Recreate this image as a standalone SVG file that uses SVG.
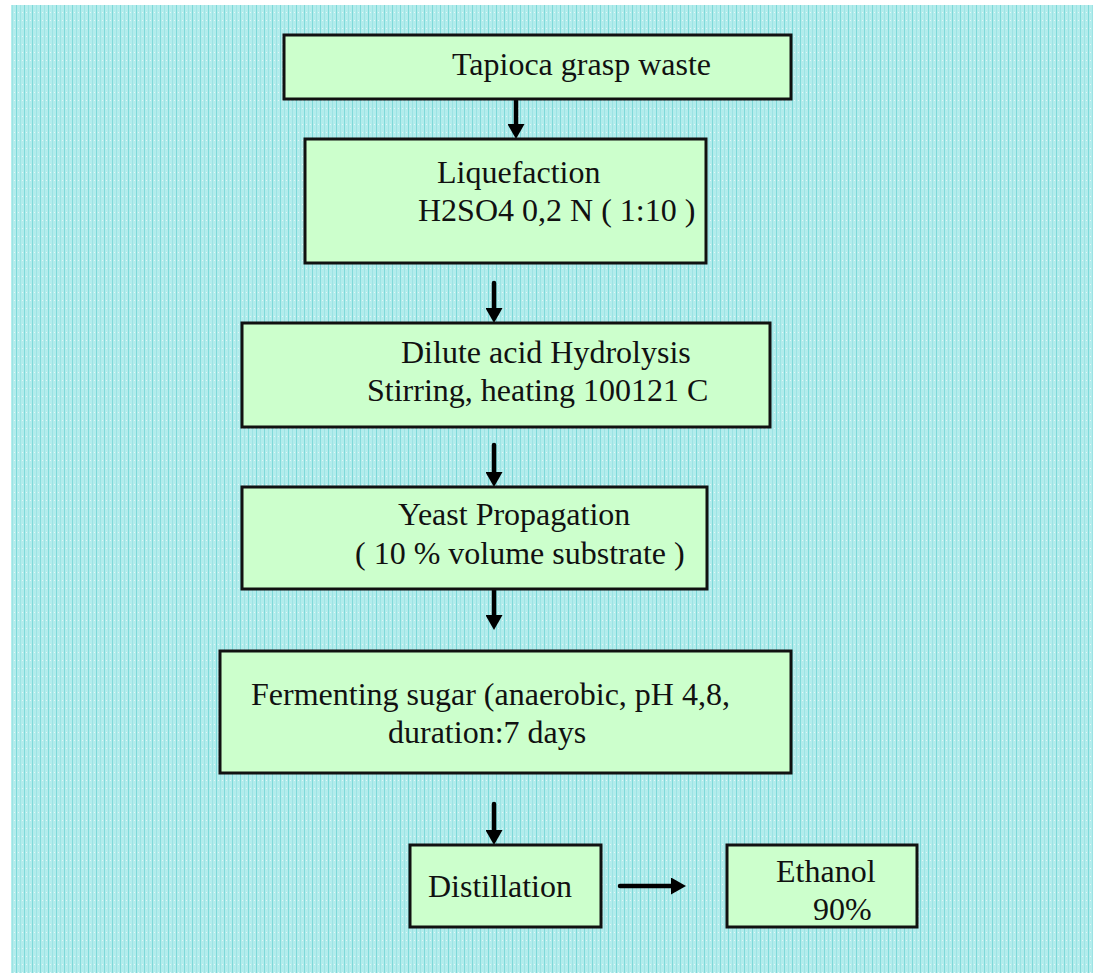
<svg xmlns="http://www.w3.org/2000/svg" width="1093" height="973" viewBox="0 0 1093 973">
<style>
.box{fill:#ccffcc;stroke:#111;stroke-width:3}
.t{font-family:"Liberation Serif","Times New Roman",serif;font-size:32px;fill:#111}
.c{stroke:#000;stroke-width:4.5;stroke-linecap:round;fill:none;marker-end:url(#ah)}
</style>
<defs>
<pattern id="bg" width="8" height="8" patternUnits="userSpaceOnUse">
<rect width="8" height="8" fill="#b3ecec"/>
<rect x="0" y="0" width="1" height="8" fill="#7fd9d9"/>
<rect x="4" y="0" width="1" height="8" fill="#9ce4e4"/>
<rect x="2" y="4" width="1" height="1" fill="#e2f8f8"/>
<rect x="6" y="4" width="1" height="1" fill="#e2f8f8"/>
</pattern>
<marker id="ah" markerUnits="userSpaceOnUse" markerWidth="15" markerHeight="17" viewBox="0 0 15 17" refX="7" refY="8.5" orient="auto">
<path d="M0,0 L15,8.5 L0,17 z" fill="#000"/>
</marker>
</defs>
<rect x="0" y="0" width="1093" height="973" fill="#ffffff"/>
<rect x="11" y="5" width="1082" height="968" fill="url(#bg)"/>
<g id="connectors">
<line class="c" x1="516" y1="100" x2="516" y2="131"/>
<line class="c" x1="494" y1="283" x2="494" y2="315"/>
<line class="c" x1="494" y1="445" x2="494" y2="479"/>
<line class="c" x1="494" y1="590" x2="494" y2="622"/>
<line class="c" x1="494" y1="804" x2="494" y2="837"/>
<line class="c" x1="620" y1="886" x2="678" y2="886"/>
</g>
<g id="tapioca">
<rect class="box" x="284" y="35" width="507" height="64"/>
<text class="t" x="452" y="75">Tapioca grasp waste</text>
</g>
<g id="liquefaction">
<rect class="box" x="305" y="139" width="401" height="124"/>
<text class="t" x="437" y="183">Liquefaction</text>
<text class="t" x="418" y="221">H2SO4 0,2 N ( 1:10 )</text>
</g>
<g id="hydrolysis">
<rect class="box" x="242" y="323" width="528" height="104"/>
<text class="t" x="401" y="363">Dilute acid Hydrolysis</text>
<text class="t" x="367" y="401">Stirring, heating 100121 C</text>
</g>
<g id="yeast">
<rect class="box" x="242" y="487" width="465" height="102"/>
<text class="t" x="398" y="525">Yeast Propagation</text>
<text class="t" x="355" y="564">( 10 % volume substrate )</text>
</g>
<g id="fermenting">
<rect class="box" x="220" y="651" width="571" height="122"/>
<text class="t" x="251" y="705">Fermenting sugar (anaerobic, pH 4,8,</text>
<text class="t" x="388" y="743">duration:7 days</text>
</g>
<g id="distillation">
<rect class="box" x="410" y="845" width="191" height="82"/>
<text class="t" x="428" y="897">Distillation</text>
</g>
<g id="ethanol">
<rect class="box" x="727" y="845" width="190" height="82"/>
<text class="t" x="776" y="882">Ethanol</text>
<text class="t" x="813" y="920">90%</text>
</g>
</svg>
